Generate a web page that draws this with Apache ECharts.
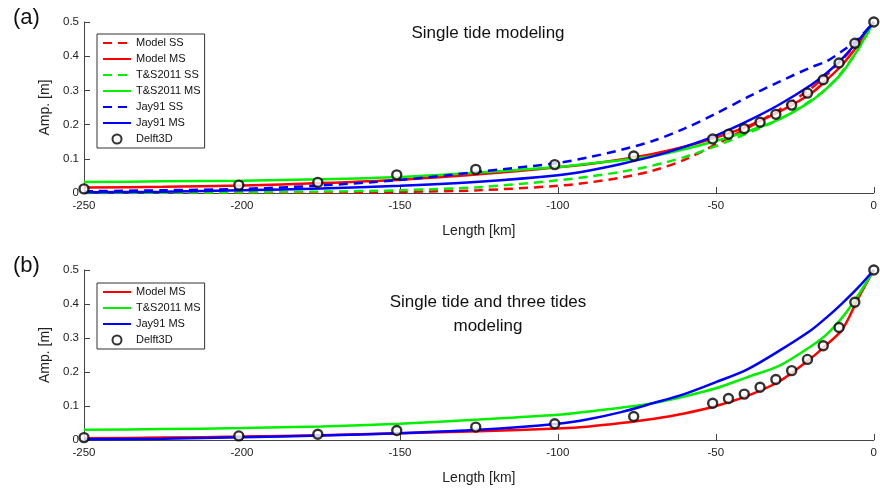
<!DOCTYPE html>
<html>
<head>
<meta charset="utf-8">
<script src="https://cdn.jsdelivr.net/npm/echarts@6/dist/echarts.min.js"></script>
<style>html,body{margin:0;padding:0;background:#fff}#c{width:880px;height:489px}</style>
</head>
<body>
<div id="c"></div>
<script>
// ---- data ----
const xTicks = [-250, -200, -150, -100, -50, 0];
const yTicks = [0, 0.1, 0.2, 0.3, 0.4, 0.5];
const xLen = [-250, -225, -200, -175, -150, -125, -100, -90, -80, -70, -60, -50, -40, -30, -20, -15, -10, -5, 0];

// panel (a): single tide
const aModelSS  = [0.000, 0.000, 0.000, 0.001, 0.003, 0.008, 0.021, 0.031, 0.045, 0.065, 0.097, 0.142, 0.190, 0.243, 0.305, 0.345, 0.390, 0.442, 0.5];
const aModelMS  = [0.016, 0.018, 0.022, 0.029, 0.039, 0.055, 0.075, 0.085, 0.098, 0.114, 0.135, 0.162, 0.195, 0.237, 0.290, 0.330, 0.375, 0.433, 0.5];
const aTSSS     = [0.000, 0.001, 0.002, 0.004, 0.008, 0.017, 0.037, 0.048, 0.062, 0.080, 0.105, 0.137, 0.175, 0.215, 0.270, 0.305, 0.355, 0.420, 0.5];
const aTSMS     = [0.032, 0.034, 0.036, 0.040, 0.047, 0.060, 0.076, 0.086, 0.096, 0.108, 0.128, 0.152, 0.180, 0.215, 0.268, 0.305, 0.352, 0.420, 0.5];
const aJaySS    = [0.005, 0.008, 0.012, 0.022, 0.038, 0.062, 0.088, 0.105, 0.126, 0.152, 0.188, 0.232, 0.280, 0.325, 0.367, 0.385, 0.415, 0.450, 0.5];
const aJayMS    = [0.002, 0.004, 0.008, 0.013, 0.021, 0.033, 0.052, 0.066, 0.085, 0.107, 0.135, 0.168, 0.210, 0.258, 0.315, 0.350, 0.393, 0.445, 0.5];
const dX        = [-250, -201, -176, -151, -126, -101, -76, -51, -46, -41, -36, -31, -26, -21, -16, -11, -6, 0];
const aDelft    = [0.012, 0.023, 0.031, 0.053, 0.069, 0.083, 0.108, 0.158, 0.172, 0.188, 0.207, 0.230, 0.257, 0.292, 0.331, 0.380, 0.438, 0.5];

// panel (b): single tide and three tides
const bModelMS  = [0.005, 0.007, 0.010, 0.014, 0.020, 0.026, 0.034, 0.040, 0.050, 0.062, 0.078, 0.100, 0.130, 0.172, 0.240, 0.280, 0.325, 0.415, 0.5];
const bTSMS     = [0.030, 0.032, 0.035, 0.040, 0.048, 0.060, 0.074, 0.084, 0.095, 0.108, 0.128, 0.152, 0.185, 0.218, 0.275, 0.310, 0.360, 0.425, 0.5];
const bJayMS    = [0.002, 0.004, 0.008, 0.013, 0.020, 0.030, 0.048, 0.062, 0.082, 0.108, 0.135, 0.170, 0.208, 0.262, 0.322, 0.360, 0.402, 0.448, 0.5];
const bDelft    = [0.007, 0.012, 0.017, 0.028, 0.038, 0.048, 0.069, 0.108, 0.122, 0.135, 0.155, 0.178, 0.204, 0.237, 0.277, 0.331, 0.405, 0.5];

const legendA = ['Model SS', 'Model MS', 'T&S2011 SS', 'T&S2011 MS', 'Jay91 SS', 'Jay91 MS', 'Delft3D'];
const legendB = ['Model MS', 'T&S2011 MS', 'Jay91 MS', 'Delft3D'];

// ---- chart ----
const RED = '#ff0000', GREEN = '#00f000', BLUE = '#0000ff';
const pair = (xs, ys) => xs.map((x, i) => [x, ys[i]]);
const FONT = 'Liberation Sans, Arial, sans-serif';
const axisCol = '#444';

function xAxis(idx) {
  return {
    gridIndex: idx, type: 'value', min: -250, max: 0, interval: 50,
    name: 'Length [km]', nameLocation: 'middle', nameGap: 31,
    nameTextStyle: { fontFamily: FONT, fontSize: 14, color: '#222' },
    axisLine: { onZero: false, lineStyle: { color: axisCol, width: 1 } },
    axisTick: { inside: true, length: 6, lineStyle: { color: axisCol } },
    axisLabel: { fontFamily: FONT, fontSize: 11.5, color: '#222', margin: 7,
      formatter: v => String(v) },
    splitLine: { show: false }
  };
}
function yAxis(idx) {
  return {
    gridIndex: idx, type: 'value', min: 0, max: 0.5, interval: 0.1,
    name: 'Amp. [m]', nameLocation: 'middle', nameGap: 31,
    nameTextStyle: { fontFamily: FONT, fontSize: 14, color: '#222' },
    axisLine: { show: true, onZero: false, lineStyle: { color: axisCol, width: 1 } },
    axisTick: { show: true, inside: true, length: 6, lineStyle: { color: axisCol } },
    axisLabel: { fontFamily: FONT, fontSize: 11.5, color: '#222', margin: 5,
      formatter: v => (Math.round(v * 10) / 10).toString() },
    splitLine: { show: false }
  };
}
function line(name, idx, ys, color, dashed) {
  return {
    name, type: 'line', xAxisIndex: idx, yAxisIndex: idx,
    data: pair(xLen, ys), smooth: 0.3, showSymbol: false, symbol: 'none',
    lineStyle: { color, width: 2.5, type: dashed ? [9, 6] : 'solid' },
    itemStyle: { color }, z: 2
  };
}
function markers(idx, ys) {
  return {
    name: 'Delft3D', type: 'scatter', xAxisIndex: idx, yAxisIndex: idx,
    data: pair(dX, ys), symbol: 'circle', symbolSize: 9,
    itemStyle: { color: '#fff', borderColor: '#000', borderWidth: 2.4 }, z: 5
  };
}
function legend(top, names) {
  return {
    data: names.map(n => n === 'Delft3D' ? { name: n } : { name: n, itemStyle: { opacity: 0 } }),
    orient: 'vertical', left: 97, top,
    backgroundColor: '#fff', borderColor: '#333', borderWidth: 1,
    padding: [3, 4, 3, 5], itemWidth: 28, itemHeight: 9, itemGap: 4,
    textStyle: { fontFamily: FONT, fontSize: 11, color: '#111', lineHeight: 12 },
    selectedMode: false
  };
}

const option = {
  animation: false,
  backgroundColor: '#fff',
  title: [
    { text: '(a)', left: 8, top: 2, textStyle: { fontFamily: FONT, fontSize: 22, fontWeight: 'normal', color: '#111' } },
    { text: '(b)', left: 8, top: 250, textStyle: { fontFamily: FONT, fontSize: 22, fontWeight: 'normal', color: '#111' } },
    { text: 'Single tide modeling', left: 483, top: 20, textAlign: 'center',
      textStyle: { fontFamily: FONT, fontSize: 17, fontWeight: 'normal', color: '#111' } },
    { text: 'Single tide and three tides\nmodeling', left: 483, top: 285, textAlign: 'center',
      textStyle: { fontFamily: FONT, fontSize: 17, fontWeight: 'normal', color: '#111', lineHeight: 24 } }
  ],
  legend: [legend(34, legendA), legend(283, legendB)],
  grid: [
    { left: 84, right: 5, top: 22, height: 171, containLabel: false },
    { left: 84, right: 5, top: 270, height: 170, containLabel: false }
  ],
  xAxis: [xAxis(0), xAxis(1)],
  yAxis: [yAxis(0), yAxis(1)],
  series: [
    line('Model SS', 0, aModelSS, RED, true),
    line('Model MS', 0, aModelMS, RED, false),
    line('T&S2011 SS', 0, aTSSS, GREEN, true),
    line('T&S2011 MS', 0, aTSMS, GREEN, false),
    line('Jay91 SS', 0, aJaySS, BLUE, true),
    line('Jay91 MS', 0, aJayMS, BLUE, false),
    markers(0, aDelft),
    line('Model MS', 1, bModelMS, RED, false),
    line('T&S2011 MS', 1, bTSMS, GREEN, false),
    line('Jay91 MS', 1, bJayMS, BLUE, false),
    markers(1, bDelft)
  ]
};
const chart = echarts.init(document.getElementById('c'), null, { renderer: 'canvas' });
chart.setOption(option);
</script>
</body>
</html>
